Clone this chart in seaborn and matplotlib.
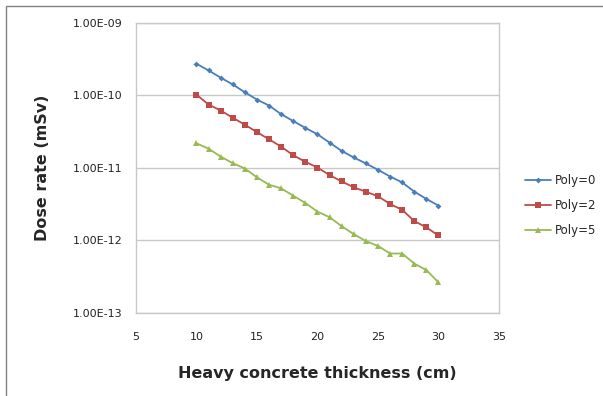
import matplotlib.pyplot as plt
import matplotlib.ticker as mticker
import pandas as pd
import seaborn as sns
from matplotlib.patches import Rectangle

thickness = list(range(10, 31))

poly0 = [2.72e-10, 2.20e-10, 1.75e-10, 1.41e-10, 1.10e-10, 8.73e-11, 7.22e-11,
         5.49e-11, 4.41e-11, 3.55e-11, 2.90e-11, 2.23e-11, 1.71e-11, 1.39e-11,
         1.15e-11, 9.4e-12, 7.6e-12, 6.3e-12, 4.7e-12, 3.73e-12, 3.02e-12]
poly2 = [1.02e-10, 7.46e-11, 6.17e-11, 4.90e-11, 3.93e-11, 3.11e-11, 2.47e-11,
         1.96e-11, 1.49e-11, 1.21e-11, 1.01e-11, 7.94e-12, 6.5e-12, 5.39e-12,
         4.69e-12, 4.06e-12, 3.18e-12, 2.64e-12, 1.85e-12, 1.51e-12, 1.17e-12]
poly5 = [2.18e-11, 1.84e-11, 1.43e-11, 1.16e-11, 9.8e-12, 7.4e-12, 5.85e-12,
         5.22e-12, 4.13e-12, 3.28e-12, 2.49e-12, 2.09e-12, 1.57e-12, 1.22e-12,
         9.8e-13, 8.4e-13, 6.6e-13, 6.6e-13, 4.8e-13, 3.9e-13, 2.64e-13]

series_names = ["Poly=0", "Poly=2", "Poly=5"]
colors = ["#4a7ebb", "#be4b48", "#98b954"]
markers = ["D", "s", "^"]
marker_sizes = [3, 5, 4.5]

df = pd.DataFrame({
    "thickness": thickness * 3,
    "dose": poly0 + poly2 + poly5,
    "series": [n for n in series_names for _ in thickness],
})

sns.set_style("white")
plt.rcParams["font.family"] = ["DejaVu Sans"]

fig = plt.figure(figsize=(6.03, 3.96), dpi=100)
ax = fig.add_axes([0.2255, 0.2096, 0.602, 0.733])

for name, color, marker, ms in zip(series_names, colors, markers, marker_sizes):
    sub = df[df["series"] == name]
    sns.lineplot(data=sub, x="thickness", y="dose", color=color, marker=marker,
                 markersize=ms, markeredgewidth=0, linewidth=1.3, label=name, ax=ax)

ax.set_yscale("log")
ax.set_ylim(1e-13, 1e-9)
ax.set_xlim(5, 35)
ax.xaxis.set_major_locator(mticker.MultipleLocator(5))
ax.yaxis.set_major_locator(mticker.LogLocator(base=10, numticks=10))
ax.yaxis.set_minor_locator(mticker.NullLocator())
ax.yaxis.set_major_formatter(mticker.FuncFormatter(lambda v, p: f"{v:.2E}"))
ax.grid(axis="y", color="#c8c8c8", linewidth=1)
ax.set_axisbelow(True)
for sp in ax.spines.values():
    sp.set_color("#c8c8c8")
    sp.set_linewidth(1)
ax.tick_params(axis="both", length=0, labelsize=8, colors="#222222", pad=10)
ax.tick_params(axis="x", pad=14)

ax.set_xlabel("Heavy concrete thickness (cm)", fontsize=11.5, fontweight="bold", labelpad=17)
ax.set_ylabel("Dose rate (mSv)", fontsize=11.5, fontweight="bold", labelpad=16)

ax.legend(loc="center left", bbox_to_anchor=(1.06, 0.37), frameon=False, fontsize=8.5,
          handlelength=2.2, labelspacing=1.05, handletextpad=0.3, borderaxespad=0)

fig.patches.append(Rectangle((0.01, -0.05), 1.2, 1.035, transform=fig.transFigure,
                             fill=False, edgecolor="#808080", linewidth=1))

fig.savefig("out.png", dpi=100)
